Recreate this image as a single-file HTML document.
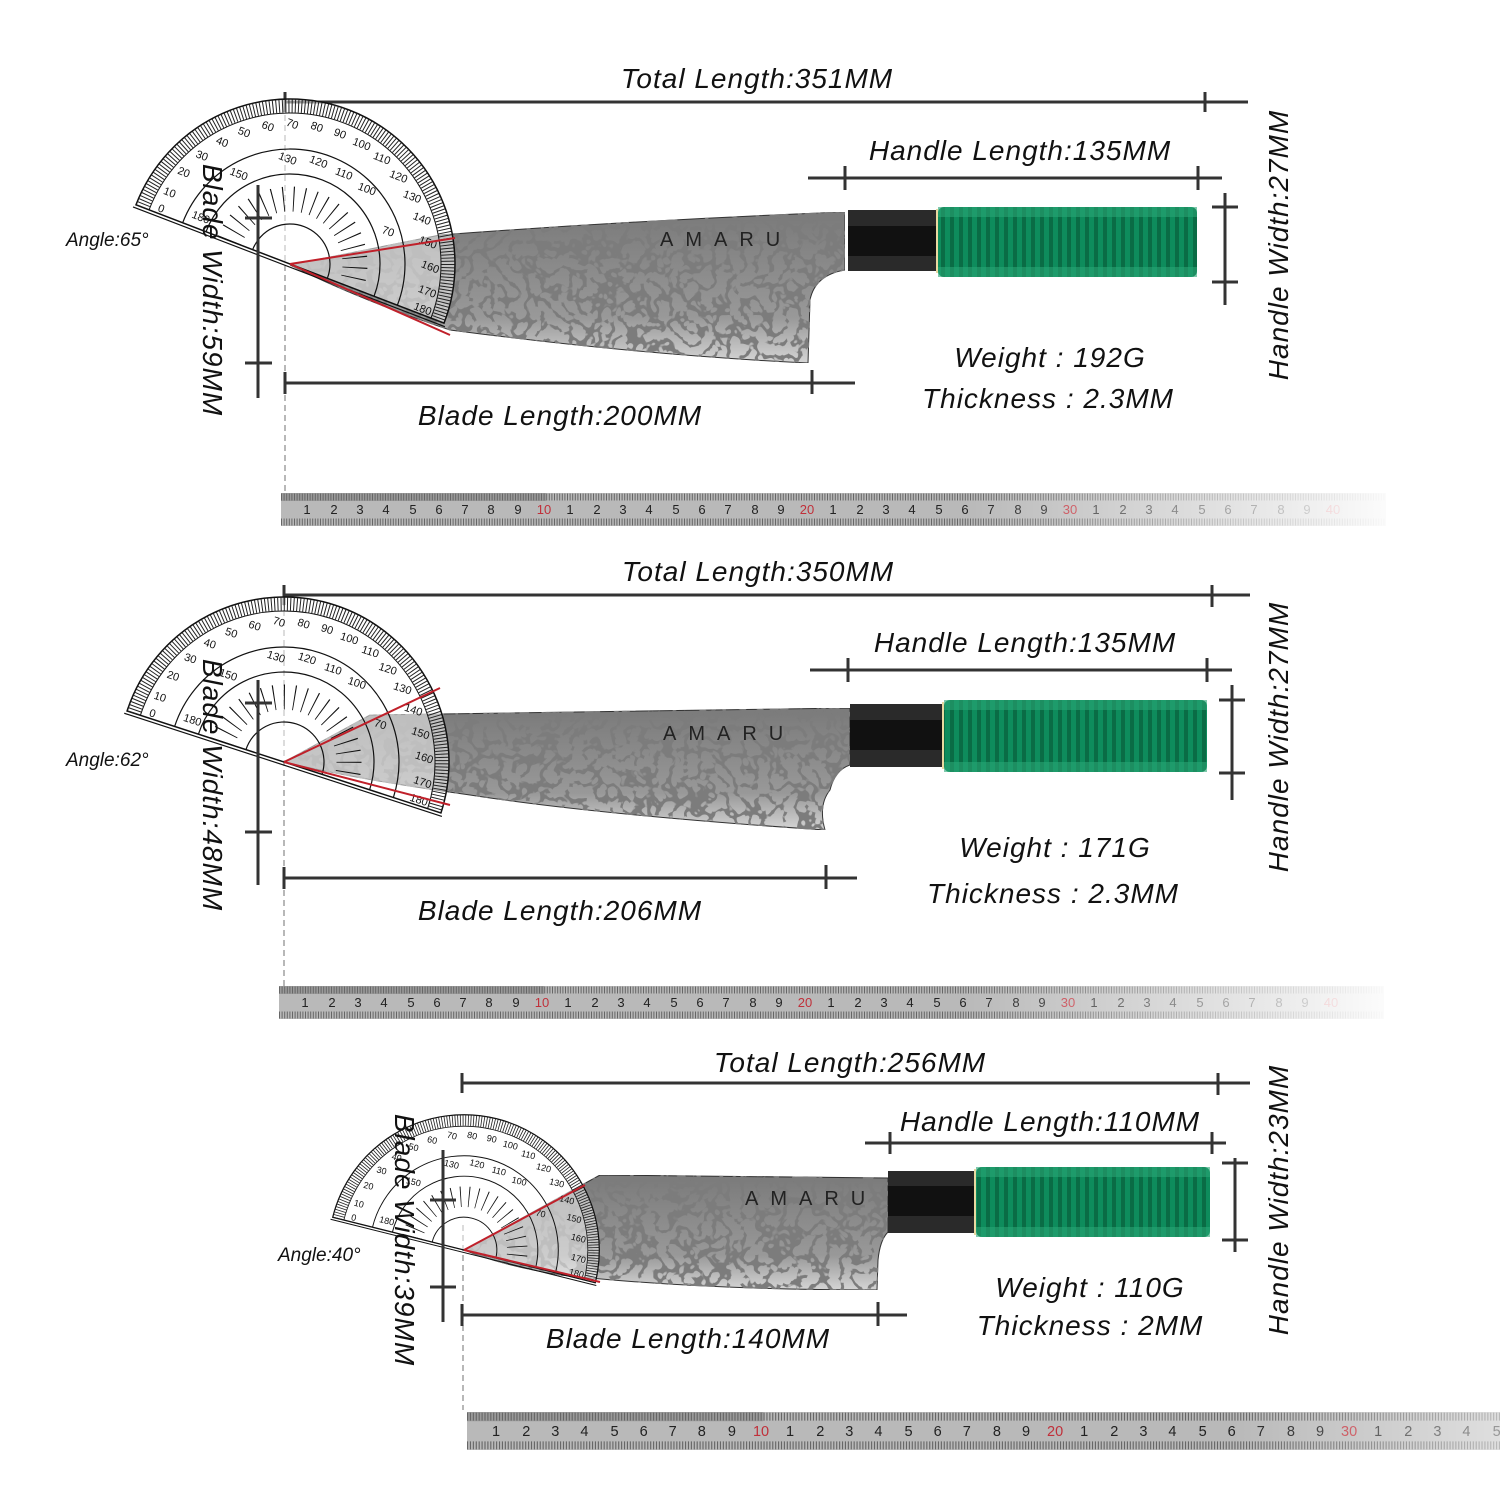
<!DOCTYPE html>
<html><head><meta charset="utf-8"><style>
html,body{margin:0;padding:0;background:#fff}
svg{display:block}
.lbl{font-family:"Liberation Sans",sans-serif;font-style:italic;font-size:28px;fill:#111;letter-spacing:1px}
.sm{font-family:"Liberation Sans",sans-serif;font-style:italic;font-size:19px;fill:#111}
.rn{font-family:"Liberation Sans",sans-serif;font-size:13px;fill:#222;text-anchor:middle}
.rr{fill:#c0303a}
.dl{stroke:#333;stroke-width:3;fill:none}
.pn{font-family:"Liberation Sans",sans-serif;font-size:11px;fill:#111;text-anchor:middle}
.brand{font-family:"Liberation Sans",sans-serif;font-size:20px;fill:#222;letter-spacing:12px}
</style></head><body>
<svg width="1500" height="1500" viewBox="0 0 1500 1500" xmlns="http://www.w3.org/2000/svg">
<defs>
<filter id="dam" x="0" y="0" width="100%" height="100%">
<feTurbulence type="turbulence" baseFrequency="0.07" numOctaves="2" seed="3" result="n"/>
<feColorMatrix in="n" type="matrix" values="0 0 0 0 0.2  0 0 0 0 0.2  0 0 0 0 0.2  0 0 0 -14 3.2" result="m"/>
<feComposite in="m" in2="SourceGraphic" operator="in" result="c"/>
<feMerge><feMergeNode in="SourceGraphic"/><feMergeNode in="c"/></feMerge>
</filter>
<linearGradient id="bl" x1="0" y1="0" x2="0" y2="1">
<stop offset="0" stop-color="#7a7a7a"/><stop offset="0.7" stop-color="#999"/><stop offset="1" stop-color="#d5d5d5"/>
</linearGradient>
<pattern id="grn" width="9" height="10" patternUnits="userSpaceOnUse">
<rect width="9" height="10" fill="#0e8c5c"/><rect x="5" width="4" height="10" fill="#0a6c45"/>
</pattern>
<linearGradient id="rul" x1="0" x2="1">
<stop offset="0" stop-color="#fff" stop-opacity="0"/><stop offset="0.62" stop-color="#fff" stop-opacity="0"/><stop offset="1" stop-color="#fff" stop-opacity="0.95"/>
</linearGradient>
<clipPath id="up"><rect x="-200" y="-200" width="400" height="200"/></clipPath>
<g id="prot">
<path d="M-165,0 A165,165 0 0 1 165,0 Z" fill="#fff" fill-opacity="0.5" stroke="#111" stroke-width="1.5"/>
<circle r="158" fill="none" stroke="#222" stroke-width="13" stroke-dasharray="1 2.2" clip-path="url(#up)"/>
<path d="M-151,0 A151,151 0 0 1 151,0" fill="none" stroke="#111" stroke-width="1"/>
<path d="M-115,0 A115,115 0 0 1 115,0" fill="none" stroke="#111" stroke-width="1.2"/>
<path d="M-90,0 A90,90 0 0 1 90,0" fill="none" stroke="#111" stroke-width="1.2"/>
<path d="M-40,0 A40,40 0 0 1 40,0" fill="none" stroke="#111" stroke-width="1.2"/>
<circle r="65" fill="none" stroke="#111" stroke-width="25" stroke-dasharray="1 9.2" clip-path="url(#up)"/>
<line x1="-167" y1="3" x2="167" y2="3" stroke="#111" stroke-width="1.2"/>
<text class="pn" x="-140" y="-2">0</text><text class="pn" x="-138" y="-20">10</text><text class="pn" x="-132" y="-44">20</text><text class="pn" x="-121" y="-66">30</text><text class="pn" x="-107" y="-86">40</text><text class="pn" x="-90" y="-103">50</text><text class="pn" x="-70" y="-117">60</text><text class="pn" x="-48" y="-128">70</text><text class="pn" x="-24" y="-134">80</text><text class="pn" x="0" y="-136">90</text><text class="pn" x="24" y="-134">100</text><text class="pn" x="48" y="-128">110</text><text class="pn" x="70" y="-117">120</text><text class="pn" x="90" y="-103">130</text><text class="pn" x="107" y="-86">140</text><text class="pn" x="121" y="-66">150</text><text class="pn" x="132" y="-44">160</text><text class="pn" x="138" y="-20">170</text><text class="pn" x="140" y="-2">180</text>
<text class="pn" x="-100" y="-8" font-size="8">180</text><text class="pn" x="-80" y="-62" font-size="8">150</text><text class="pn" x="-40" y="-94" font-size="8">130</text><text class="pn" x="-10" y="-102" font-size="8">120</text><text class="pn" x="18" y="-100" font-size="8">110</text><text class="pn" x="45" y="-94" font-size="8">100</text><text class="pn" x="80" y="-62" font-size="8">70</text>
</g>
<g id="ruler">
<rect x="0" y="0" width="1105" height="33" fill="#b9b9b9"/>
<rect x="0" y="0" width="265" height="8" fill="#9a9a9a"/>
<line x1="0" y1="4" x2="1105" y2="4" stroke="#666" stroke-width="7" stroke-dasharray="1 1.6"/>
<line x1="0" y1="29" x2="1105" y2="29" stroke="#666" stroke-width="7" stroke-dasharray="1 1.6"/>
<text class="rn" y="21"><tspan x="26">1</tspan><tspan x="53">2</tspan><tspan x="79">3</tspan><tspan x="105">4</tspan><tspan x="132">5</tspan><tspan x="158">6</tspan><tspan x="184">7</tspan><tspan x="210">8</tspan><tspan x="237">9</tspan><tspan x="263" class="rr">10</tspan><tspan x="289">1</tspan><tspan x="316">2</tspan><tspan x="342">3</tspan><tspan x="368">4</tspan><tspan x="395">5</tspan><tspan x="421">6</tspan><tspan x="447">7</tspan><tspan x="474">8</tspan><tspan x="500">9</tspan><tspan x="526" class="rr">20</tspan><tspan x="552">1</tspan><tspan x="579">2</tspan><tspan x="605">3</tspan><tspan x="631">4</tspan><tspan x="658">5</tspan><tspan x="684">6</tspan><tspan x="710">7</tspan><tspan x="737">8</tspan><tspan x="763">9</tspan><tspan x="789" class="rr">30</tspan><tspan x="815">1</tspan><tspan x="842">2</tspan><tspan x="868">3</tspan><tspan x="894">4</tspan><tspan x="921">5</tspan><tspan x="947">6</tspan><tspan x="973">7</tspan><tspan x="1000">8</tspan><tspan x="1026">9</tspan><tspan x="1052" class="rr">40</tspan></text>
<rect x="0" y="0" width="1105" height="33" fill="url(#rul)"/>
</g>
</defs>

<!-- ================= KNIFE 1 ================= -->
<line x1="285" y1="95" x2="285" y2="495" stroke="#888" stroke-width="1.2" stroke-dasharray="6 4"/>
<text class="lbl" x="757" y="88" text-anchor="middle">Total Length:351MM</text>
<line class="dl" x1="285" y1="102" x2="1248" y2="102"/>
<line class="dl" x1="285" y1="92" x2="285" y2="112"/><line class="dl" x1="1205" y1="92" x2="1205" y2="112"/>
<text class="lbl" x="1020" y="160" text-anchor="middle">Handle Length:135MM</text>
<line class="dl" x1="808" y1="178" x2="1222" y2="178"/>
<line class="dl" x1="845" y1="166" x2="845" y2="190"/><line class="dl" x1="1198" y1="166" x2="1198" y2="190"/>
<line class="dl" x1="1225" y1="193" x2="1225" y2="305"/>
<line class="dl" x1="1212" y1="207" x2="1238" y2="207"/><line class="dl" x1="1212" y1="282" x2="1238" y2="282"/>
<text class="lbl" transform="translate(1288,245) rotate(-90)" text-anchor="middle">Handle Width:27MM</text>
<path d="M290,265 L440,235 Q640,220 845,212 L845,270 Q815,275 810,300 L808,363 Q640,355 450,330 Q360,300 290,265 Z" fill="url(#bl)" filter="url(#dam)" stroke="#333" stroke-width="1"/>
<text class="brand" x="660" y="246">AMARU</text>
<rect x="848" y="210" width="88" height="61" fill="#2a2a2a"/><rect x="848" y="226" width="88" height="30" fill="#111"/>
<rect x="936" y="209" width="2" height="64" fill="#e8d9a0"/>
<rect x="938" y="207" width="259" height="70" rx="6" fill="url(#grn)"/>
<rect x="938" y="207" width="259" height="10" fill="#2aa574" opacity=".6"/><rect x="938" y="267" width="259" height="10" fill="#2aa574" opacity=".6"/>
<g transform="translate(290,264) rotate(21)"><use href="#prot"/></g>
<path d="M290,264 L455,238 M290,264 L450,335" stroke="#c0202a" stroke-width="2"/>
<line class="dl" x1="258" y1="185" x2="258" y2="398"/>
<line class="dl" x1="245" y1="218" x2="272" y2="218"/><line class="dl" x1="245" y1="363" x2="272" y2="363"/>
<text class="lbl" transform="translate(203,290) rotate(90)" text-anchor="middle">Blade Width:59MM</text>
<line class="dl" x1="285" y1="383" x2="855" y2="383"/>
<line class="dl" x1="285" y1="372" x2="285" y2="394"/><line class="dl" x1="812" y1="370" x2="812" y2="394"/>
<text class="lbl" x="560" y="425" text-anchor="middle">Blade Length:200MM</text>
<text class="sm" x="66" y="246">Angle:65°</text>
<text class="lbl" x="1050" y="367" text-anchor="middle">Weight : 192G</text>
<text class="lbl" x="1048" y="408" text-anchor="middle">Thickness : 2.3MM</text>
<use href="#ruler" x="281" y="493"/>

<!-- ================= KNIFE 2 ================= -->
<line x1="284" y1="590" x2="284" y2="990" stroke="#888" stroke-width="1.2" stroke-dasharray="6 4"/>
<text class="lbl" x="758" y="581" text-anchor="middle">Total Length:350MM</text>
<line class="dl" x1="284" y1="595" x2="1250" y2="595"/>
<line class="dl" x1="284" y1="585" x2="284" y2="605"/><line class="dl" x1="1212" y1="585" x2="1212" y2="607"/>
<text class="lbl" x="1025" y="652" text-anchor="middle">Handle Length:135MM</text>
<line class="dl" x1="810" y1="670" x2="1232" y2="670"/>
<line class="dl" x1="848" y1="658" x2="848" y2="682"/><line class="dl" x1="1207" y1="658" x2="1207" y2="682"/>
<line class="dl" x1="1232" y1="685" x2="1232" y2="800"/>
<line class="dl" x1="1219" y1="700" x2="1245" y2="700"/><line class="dl" x1="1219" y1="773" x2="1245" y2="773"/>
<text class="lbl" transform="translate(1288,737) rotate(-90)" text-anchor="middle">Handle Width:27MM</text>
<path d="M284,762 L370,715 L850,708 L850,765 Q835,770 830,790 Q818,805 825,830 Q600,815 470,795 Q360,780 284,762 Z" fill="url(#bl)" filter="url(#dam)" stroke="#333" stroke-width="1"/>
<text class="brand" x="663" y="740">AMARU</text>
<rect x="850" y="704" width="92" height="63" fill="#2a2a2a"/><rect x="850" y="720" width="92" height="30" fill="#111"/>
<rect x="942" y="702" width="2" height="67" fill="#e8d9a0"/>
<rect x="944" y="700" width="263" height="72" rx="6" fill="url(#grn)"/>
<rect x="944" y="700" width="263" height="10" fill="#2aa574" opacity=".6"/><rect x="944" y="762" width="263" height="10" fill="#2aa574" opacity=".6"/>
<g transform="translate(284,762) rotate(18)"><use href="#prot"/></g>
<path d="M284,762 L440,688 M284,762 L450,805" stroke="#c0202a" stroke-width="2"/>
<line class="dl" x1="258" y1="680" x2="258" y2="885"/>
<line class="dl" x1="245" y1="703" x2="272" y2="703"/><line class="dl" x1="245" y1="832" x2="272" y2="832"/>
<text class="lbl" transform="translate(203,785) rotate(90)" text-anchor="middle">Blade Width:48MM</text>
<line class="dl" x1="284" y1="878" x2="857" y2="878"/>
<line class="dl" x1="284" y1="867" x2="284" y2="889"/><line class="dl" x1="826" y1="865" x2="826" y2="889"/>
<text class="lbl" x="560" y="920" text-anchor="middle">Blade Length:206MM</text>
<text class="sm" x="66" y="766">Angle:62°</text>
<text class="lbl" x="1055" y="857" text-anchor="middle">Weight : 171G</text>
<text class="lbl" x="1053" y="903" text-anchor="middle">Thickness : 2.3MM</text>
<use href="#ruler" x="279" y="986"/>

<!-- ================= KNIFE 3 ================= -->
<line x1="463" y1="1225" x2="463" y2="1410" stroke="#888" stroke-width="1.2" stroke-dasharray="6 4"/>
<text class="lbl" x="850" y="1072" text-anchor="middle">Total Length:256MM</text>
<line class="dl" x1="462" y1="1083" x2="1250" y2="1083"/>
<line class="dl" x1="462" y1="1073" x2="462" y2="1093"/><line class="dl" x1="1218" y1="1073" x2="1218" y2="1095"/>
<text class="lbl" x="1050" y="1131" text-anchor="middle">Handle Length:110MM</text>
<line class="dl" x1="865" y1="1143" x2="1226" y2="1143"/>
<line class="dl" x1="890" y1="1132" x2="890" y2="1154"/><line class="dl" x1="1212" y1="1132" x2="1212" y2="1154"/>
<line class="dl" x1="1235" y1="1158" x2="1235" y2="1252"/>
<line class="dl" x1="1222" y1="1163" x2="1248" y2="1163"/><line class="dl" x1="1222" y1="1240" x2="1248" y2="1240"/>
<text class="lbl" transform="translate(1288,1200) rotate(-90)" text-anchor="middle">Handle Width:23MM</text>
<path d="M464,1250 L600,1175 L888,1178 L888,1232 Q880,1240 878,1260 L877,1290 Q700,1290 560,1275 Q500,1265 464,1250 Z" fill="url(#bl)" filter="url(#dam)" stroke="#333" stroke-width="1"/>
<text class="brand" x="745" y="1205">AMARU</text>
<rect x="888" y="1171" width="86" height="62" fill="#2a2a2a"/><rect x="888" y="1186" width="86" height="30" fill="#111"/>
<rect x="974" y="1169" width="2" height="66" fill="#e8d9a0"/>
<rect x="976" y="1167" width="234" height="70" rx="6" fill="url(#grn)"/>
<rect x="976" y="1167" width="234" height="10" fill="#2aa574" opacity=".6"/><rect x="976" y="1227" width="234" height="10" fill="#2aa574" opacity=".6"/>
<g transform="translate(464,1250) rotate(14) scale(0.82)"><use href="#prot"/></g>
<path d="M464,1250 L585,1185 M464,1250 L600,1282" stroke="#c0202a" stroke-width="2"/>
<line class="dl" x1="443" y1="1150" x2="443" y2="1322"/>
<line class="dl" x1="430" y1="1200" x2="456" y2="1200"/><line class="dl" x1="430" y1="1287" x2="456" y2="1287"/>
<text class="lbl" transform="translate(395,1240) rotate(90)" text-anchor="middle">Blade Width:39MM</text>
<line class="dl" x1="462" y1="1315" x2="907" y2="1315"/>
<line class="dl" x1="462" y1="1304" x2="462" y2="1326"/><line class="dl" x1="878" y1="1302" x2="878" y2="1326"/>
<text class="lbl" x="688" y="1348" text-anchor="middle">Blade Length:140MM</text>
<text class="sm" x="278" y="1261">Angle:40°</text>
<text class="lbl" x="1090" y="1297" text-anchor="middle">Weight : 110G</text>
<text class="lbl" x="1090" y="1335" text-anchor="middle">Thickness : 2MM</text>
<g transform="translate(467,1412) scale(1.118,1.15)"><use href="#ruler"/></g>
</svg>
</body></html>
